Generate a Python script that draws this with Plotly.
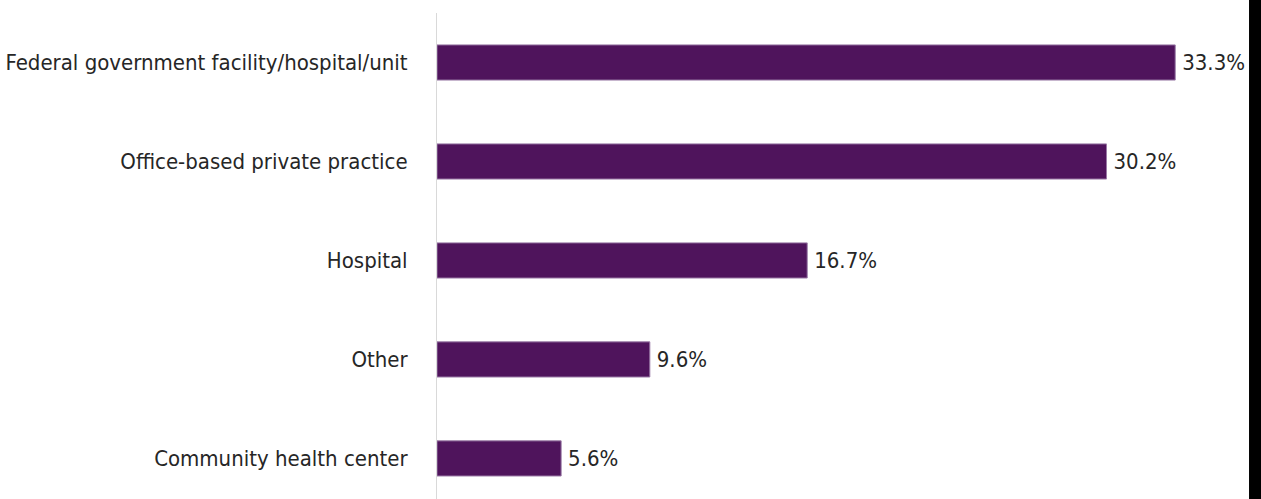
import plotly.graph_objects as go

categories = ["Federal government facility/hospital/unit", "Office-based private practice",
              "Hospital", "Other", "Community health center"]
values = [33.3, 30.2, 16.7, 9.6, 5.6]
value_labels = ["33.3%", "30.2%", "16.7%", "9.6%", "5.6%"]

FONT = "Liberation Sans Narrow, DejaVu Sans Condensed, Arial Narrow, sans-serif"
X_MAX = 37.17  # plot area width 824 px at ~22.17 px per percent

fig = go.Figure(go.Bar(
    y=categories, x=values, orientation="h",
    text=value_labels, textposition="outside", cliponaxis=False,
    texttemplate="\u2009%{text}",
    textfont=dict(family=FONT, size=22, color="#262626"),
    marker=dict(color="#4F145C", line=dict(color="#9a7aa6", width=1)),
    width=0.355,
    hoverinfo="skip",
))

fig.update_layout(
    width=1261, height=499,
    margin=dict(l=437, r=0, t=13, b=0, autoexpand=False),
    paper_bgcolor="white", plot_bgcolor="white",
    showlegend=False,
    font=dict(family=FONT, size=22, color="#262626"),
    xaxis=dict(range=[0, X_MAX], visible=False, fixedrange=True, automargin=False),
    yaxis=dict(type="category", categoryorder="array", categoryarray=categories,
               range=[4.41, -0.5], showline=True, linecolor="#d9d9d9", linewidth=1,
               showgrid=False, ticks="", ticklabelstandoff=24, automargin=False,
               fixedrange=True,
               tickfont=dict(family=FONT, size=22, color="#262626")),
    shapes=[dict(type="rect", xref="x", yref="paper", x0=36.63, x1=X_MAX + 1,
                 y0=-0.1, y1=1.1, fillcolor="black", line=dict(width=0), layer="above")],
)

fig.write_html("out.html", config={"displayModeBar": False},
               post_script="document.body.style.margin='0';document.body.style.overflow='hidden';")
